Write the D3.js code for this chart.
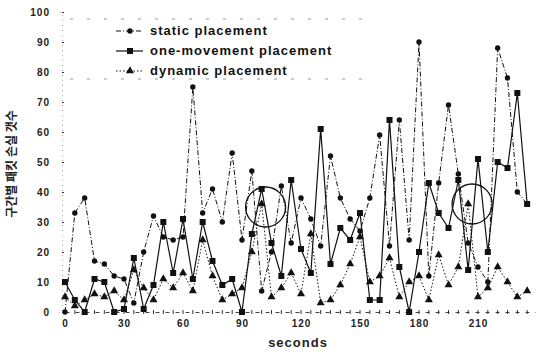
<!DOCTYPE html>
<html>
<head>
<meta charset="utf-8">
<script src="https://cdn.jsdelivr.net/npm/d3@7"></script>
<style>
  html, body { margin: 0; padding: 0; background: #fff; }
  svg { display: block; }
</style>
</head>
<body>
<div id="chart"></div>
<script>
// sample times (seconds), one value every 5 s
const seconds = d3.range(0, 240, 5);

const staticPlacement = [
  0, 33, 38, 17, 16, 12, 11, 3, 20, 32, 25, 24,
  25, 75, 33, 41, 30, 53, 24, 47, 7, 20, 42, 23,
  38, 31, 22, 52, 38, 31, 27, 38, 59, 22, 64, 24,
  90, 12, 43, 69, 46, 23, 15, 10, 88, 78, 40, 36
];
const oneMovementPlacement = [
  10, 4, 0, 11, 10, 0, 1, 18, 1, 9, 30, 13,
  31, 11, 30, 17, 9, 11, 0, 26, 41, 23, 12, 44,
  21, 13, 61, 16, 28, 24, 33, 4, 4, 64, 15, 0,
  20, 43, 33, 28, 44, 14, 51, 20, 50, 48, 73, 36
];
const dynamicPlacement = [
  5, 2, 4, 6, 5, 7, 4, 14, 8, 4, 11, 8,
  13, 7, 24, 12, 4, 6, 8, 20, 36, 5, 8, 13,
  6, 26, 3, 4, 9, 16, 25, 10, 12, 18, 5, 10,
  12, 4, 19, 9, 15, 36, 5, 8, 15, 10, 5, 7
];

const seriesNames = ['static placement', 'one-movement placement', 'dynamic placement'];
const xTicks = [0, 30, 60, 90, 120, 150, 180, 210];
const yTicks = d3.range(0, 101, 10);
// highlighted spots (seconds, value)
const highlights = [[102, 35], [207, 36]];

const width = 536, height = 353;
const font = '"Liberation Sans", Arial, sans-serif';

const svg = d3.select('#chart').append('svg')
  .attr('width', width)
  .attr('height', height);

const x = d3.scaleLinear().domain([0, 240]).range([65, 537]);
const y = d3.scaleLinear().domain([0, 100]).range([312, 12]);

// y axis: faint dotted spine with small cross ticks
const yAxis = svg.append('g')
  .attr('transform', 'translate(62,0)')
  .call(d3.axisLeft(y).tickValues(yTicks).tickSize(3).tickPadding(9));
yAxis.select('.domain').attr('stroke', '#aaa').attr('stroke-dasharray', '1,4');
yAxis.selectAll('.tick line').attr('x2', 2).attr('stroke', '#333');
yAxis.selectAll('text')
  .style('font-family', font).style('font-size', '10px').style('font-weight', 'bold')
  .style('letter-spacing', '1px').attr('fill', '#222');

// x axis: dotted baseline with minor marks every 5 s
const xAxis = svg.append('g')
  .attr('transform', 'translate(0,312)')
  .call(d3.axisBottom(x).tickValues(xTicks).tickSize(0).tickPadding(8));
xAxis.select('.domain').attr('stroke', '#444').attr('stroke-dasharray', '4,6');
xAxis.selectAll('text')
  .style('font-family', font).style('font-size', '10px').style('font-weight', 'bold')
  .style('letter-spacing', '1px').attr('fill', '#222');
svg.append('g').selectAll('line')
  .data(seconds)
  .join('line')
  .attr('x1', (d) => x(d)).attr('x2', (d) => x(d))
  .attr('y1', 310).attr('y2', 314)
  .attr('stroke', '#333').attr('stroke-width', 1);

svg.append('text')
  .attr('x', 298).attr('y', 347)
  .attr('text-anchor', 'middle')
  .style('font-family', font).style('font-size', '13px').style('font-weight', 'bold')
  .style('letter-spacing', '1px')
  .attr('fill', '#222')
  .text('seconds');

svg.append('text')
  .attr('text-anchor', 'middle')
  .attr('transform', 'translate(16,164) rotate(-90)')
  .style('font-family', '"Noto Sans CJK KR", sans-serif')
  .style('font-size', '12px').style('font-weight', 'bold')
  .attr('fill', '#222')
  .text('구간별 패킷 손실 갯수');

// legend frame: only faint top and bottom traces survive in the scan
svg.append('g').selectAll('line')
  .data([19, 79])
  .join('line')
  .attr('x1', 70).attr('x2', 372)
  .attr('y1', (d) => d).attr('y2', (d) => d)
  .attr('stroke', '#999')
  .attr('stroke-dasharray', '3,14');

const styles = [
  { data: staticPlacement, dash: '5,2,1,2', width: 1, marker: 'circle' },
  { data: oneMovementPlacement, dash: null, width: 1.2, marker: 'square' },
  { data: dynamicPlacement, dash: '1.5,2', width: 1, marker: 'triangle' }
];

function drawMarker(g, type, cx, cy) {
  if (type === 'circle') {
    g.append('circle').attr('cx', cx).attr('cy', cy).attr('r', 2.7).attr('fill', '#111');
  } else if (type === 'square') {
    g.append('rect').attr('x', cx - 3).attr('y', cy - 3)
      .attr('width', 6).attr('height', 6).attr('fill', '#111');
  } else {
    g.append('path')
      .attr('d', d3.symbol().type(d3.symbolTriangle).size(28)())
      .attr('transform', 'translate(' + cx + ',' + cy + ')')
      .attr('fill', '#111');
  }
}

const line = d3.line()
  .x((d, i) => x(seconds[i]))
  .y((d) => y(d));

styles.forEach((s) => {
  const g = svg.append('g');
  g.append('path')
    .datum(s.data)
    .attr('fill', 'none')
    .attr('stroke', '#111')
    .attr('stroke-width', s.width)
    .attr('stroke-dasharray', s.dash)
    .attr('d', line);
  s.data.forEach((d, i) => drawMarker(g, s.marker, x(seconds[i]), y(d)));
});

// legend
const legend = svg.append('g');
seriesNames.forEach((name, i) => {
  const ly = 31 + i * 20;
  legend.append('line')
    .attr('x1', 116).attr('x2', 143).attr('y1', ly).attr('y2', ly)
    .attr('stroke', '#111').attr('stroke-width', styles[i].width)
    .attr('stroke-dasharray', styles[i].dash);
  drawMarker(legend, styles[i].marker, 130, ly);
  legend.append('text')
    .attr('x', 150).attr('y', ly + 4)
    .style('font-family', font).style('font-size', '13px').style('font-weight', 'bold')
    .style('letter-spacing', '1px')
    .attr('fill', '#111')
    .text(name);
});

// circled spots
svg.append('g').selectAll('circle')
  .data(highlights)
  .join('circle')
  .attr('cx', (d) => x(d[0]))
  .attr('cy', (d) => y(d[1]))
  .attr('r', 20)
  .attr('fill', 'none')
  .attr('stroke', '#111')
  .attr('stroke-width', 1.3);
</script>
</body>
</html>
